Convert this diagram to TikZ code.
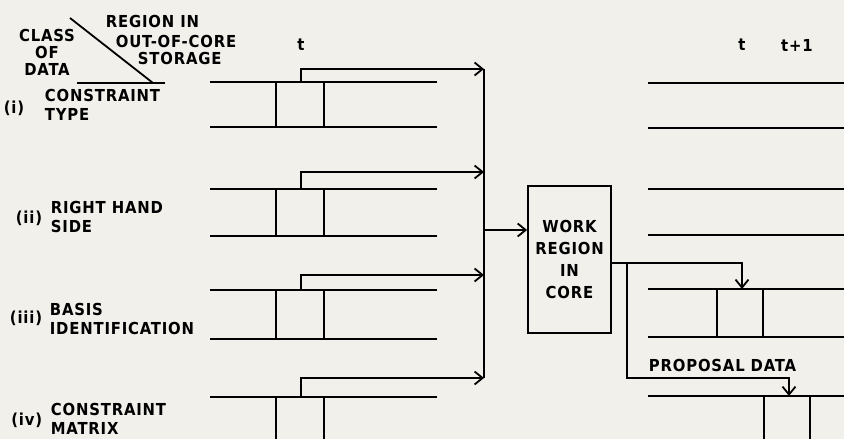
\documentclass[tikz,border=0pt]{standalone}
\usepackage{fontspec}
\setmainfont{DejaVu Sans Condensed}[LetterSpace=5,UprightFont=* Bold]
\usetikzlibrary{arrows.meta,positioning}
\definecolor{paper}{RGB}{241,240,235}
\begin{document}
\begin{tikzpicture}[x=1pt,y=-1pt,line width=1.8pt,>={Straight Barb[length=8pt,width=13pt]},
  font=\fontsize{16.5}{19}\selectfont,
  lbl/.style={anchor=west,align=left,inner sep=0pt},
  num/.style={anchor=east,inner sep=0pt}]
  \fill[paper] (0,0) rectangle (844,439);
  \clip (0,0) rectangle (844,439);
  % heading of the table
  \draw (70,18) -- (153,83);
  \draw (77,83) -- (165,83);
  \node[align=center,inner sep=0pt,font=\fontsize{16.5}{17}\selectfont] (cls) at (47,52) {CLASS\\OF\\DATA};
  \node[lbl] (reg1) at (105,21) {REGION IN};
  \node[lbl] (reg2) at (115,41) {OUT-OF-CORE};
  \node[lbl] (reg3) at (137,58) {STORAGE};
  \node (tleft) at (301,45) {t};
  \node (tright) at (742,45) {t};
  \node (tnext) at (797,45) {t+1};
  % classes of data
  \node[num] (n1) at (25,108) {(i)};
  \node[lbl] (d1) at (44,104.5) {CONSTRAINT\\TYPE};
  \node[num] (n2) at (43,218) {(ii)};
  \node[lbl] (d2) at (50,216.5) {RIGHT HAND\\SIDE};
  \node[num] (n3) at (43,318) {(iii)};
  \node[lbl] (d3) at (49,319) {BASIS\\IDENTIFICATION};
  \node[num] (n4) at (43,420) {(iv)};
  \node[lbl] (d4) at (50,419) {CONSTRAINT\\MATRIX};
  % out-of-core strips, region t goes to the bus
  \foreach \n/\top/\bot/\arr in {1/82/127/69,2/189/236/172,3/290/339/275,4/397/460/378} {
    \draw (210,\top) -- (437,\top);
    \draw (210,\bot) -- (437,\bot);
    \draw (276,\top) -- (276,\bot) (324,\top) -- (324,\bot);
    \coordinate (src\n) at (301,\top);
    \coordinate (bus\n) at (484,\arr);
    \draw[->] (src\n) |- (bus\n);
  }
  \draw (bus1) -- (bus4);
  % work region
  \node[draw,minimum width=83,minimum height=147,align=center,font=\fontsize{16.5}{22}\selectfont] (work) at (569.5,259.5) {WORK\\REGION\\IN\\CORE};
  \coordinate (busmid) at (484,230);
  \draw[->] (busmid) -- (work.west |- busmid);
  % strips after the pass
  \foreach \y in {83,128,189,235,289,337,396} \draw (648,\y) -- (844,\y);
  \draw (717,289) -- (717,337) (763,289) -- (763,337);
  \draw (764,396) -- (764,460) (810,396) -- (810,460);
  \coordinate (wout) at (611,263);
  \coordinate (tap) at (627,263);
  \coordinate (bend) at (627,378);
  \coordinate (dst3) at (742,289);
  \coordinate (dst4) at (789,396);
  \draw[->] (wout) -| (dst3);
  \draw[->] (tap) -- (bend) -| (dst4);
  \node[anchor=west,inner sep=0pt] (prop) at (648,365) {PROPOSAL DATA};
\end{tikzpicture}
\end{document}
